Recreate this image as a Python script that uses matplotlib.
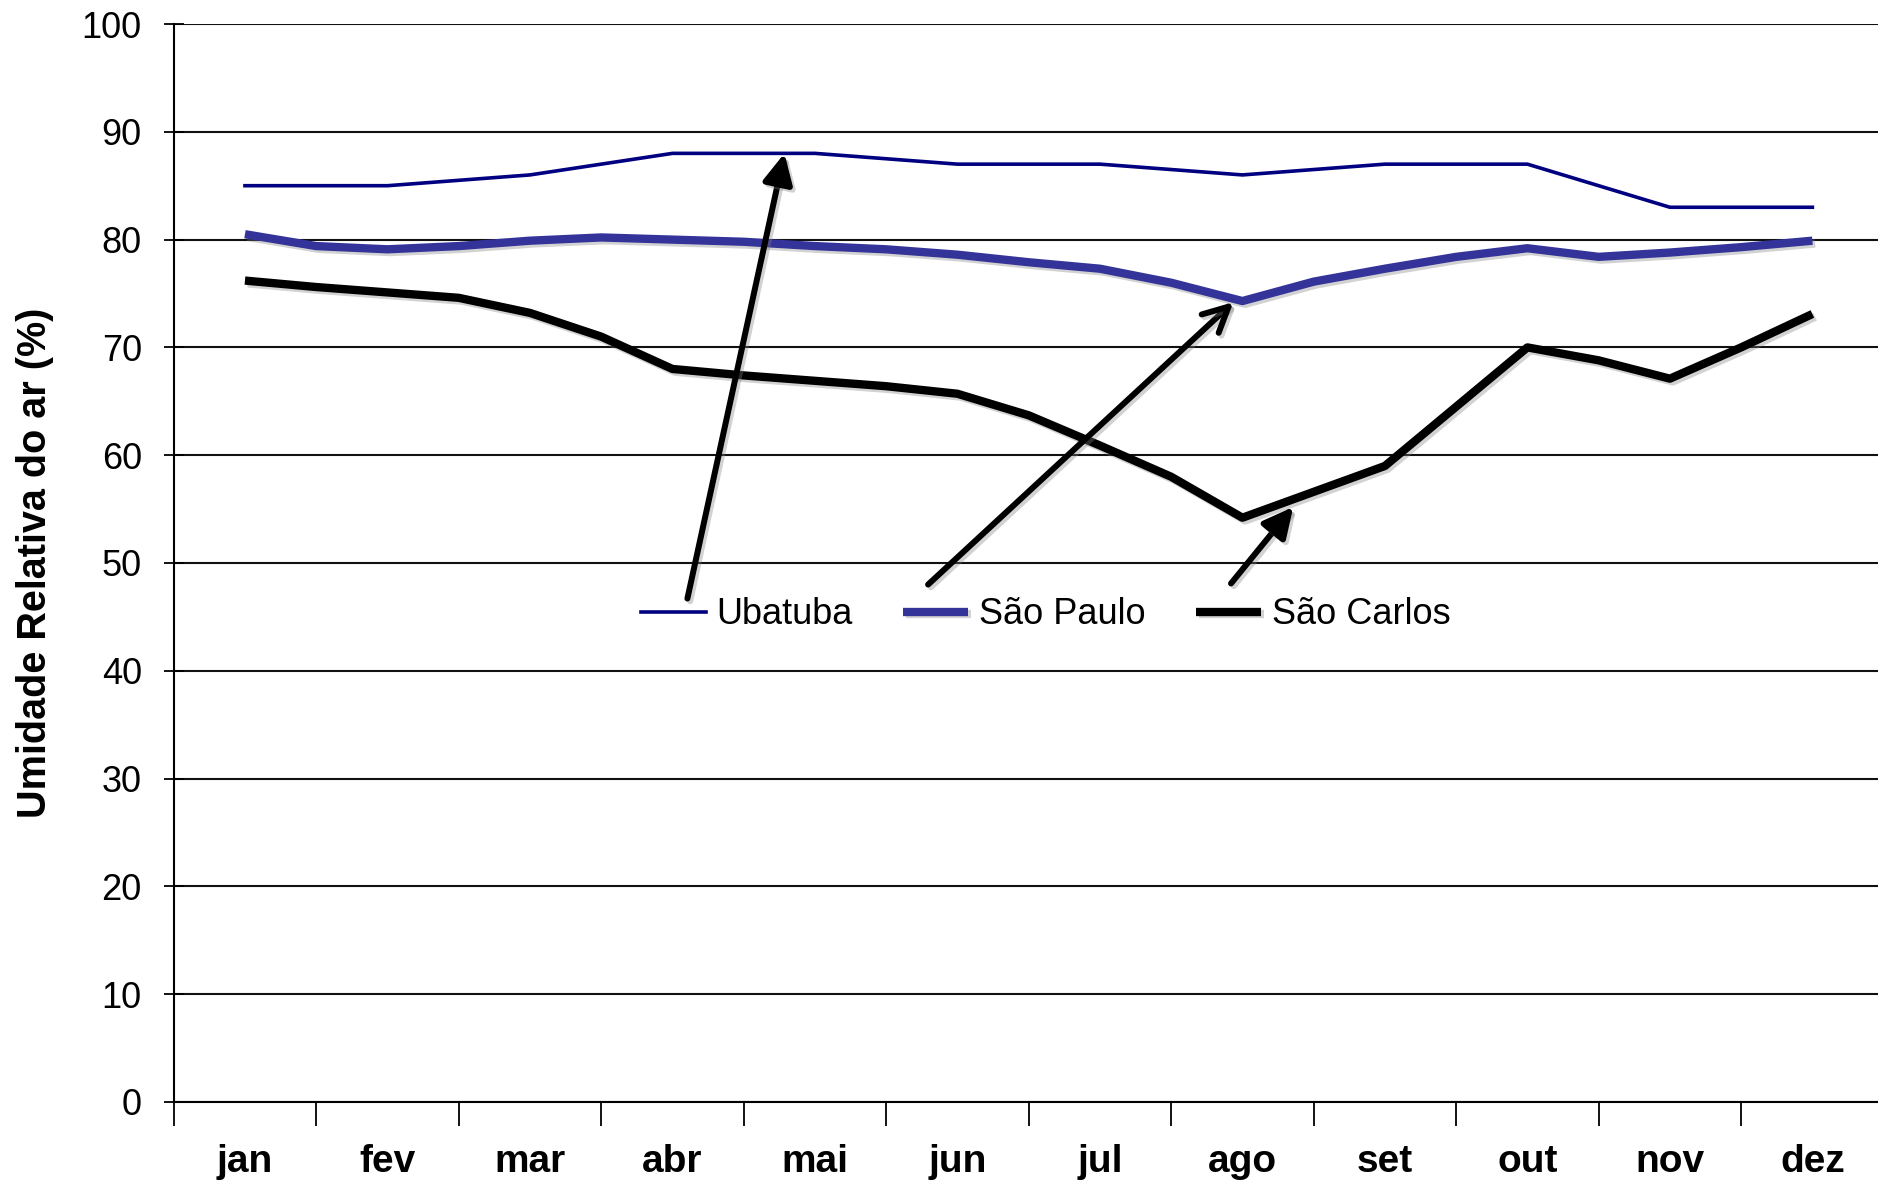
import numpy as np
import matplotlib.pyplot as plt
import matplotlib as mpl
import matplotlib.patheffects as pe

mpl.rcParams['font.family'] = ['Liberation Sans', 'DejaVu Sans']

meses = ['jan', 'fev', 'mar', 'abr', 'mai', 'jun',
         'jul', 'ago', 'set', 'out', 'nov', 'dez']

# Ubatuba, one value per month
ubatuba = [85, 85, 86, 88, 88, 87, 87, 86, 87, 87, 83, 83]

# Sao Paulo and Sao Carlos read every half month (jan, mid jan-fev, fev, ...)
sao_paulo = [80.5, 79.4, 79.1, 79.4, 79.9, 80.2, 80.0, 79.8, 79.4, 79.1,
             78.6, 77.9, 77.3, 76.0, 74.3, 76.1, 77.3, 78.4, 79.2, 78.4,
             78.8, 79.3, 79.9]
sao_carlos = [76.2, 75.6, 75.1, 74.6, 73.2, 71.0, 68.0, 67.4, 66.9, 66.4,
              65.7, 63.7, 60.9, 58.0, 54.2, 56.6, 59.0, 64.5, 70.0, 68.8,
              67.1, 70.0, 73.1]

x_mes = np.arange(len(meses))
x_meio = np.arange(len(sao_paulo)) / 2

shadow = [pe.SimpleLineShadow(offset=(2, -2), shadow_color='gray',
                              alpha=0.35), pe.Normal()]

fig = plt.figure(figsize=[18.78, 11.83], dpi=100)
ax = fig.add_axes([0.0925, 0.0685, 0.9105, 0.9112])

l1, = ax.plot(x_mes, ubatuba, color='#000080', lw=2.6, label='Ubatuba',
              zorder=3)
l2, = ax.plot(x_meio, sao_paulo, color='#333399', lw=6, label='São Paulo',
              solid_capstyle='butt', solid_joinstyle='round',
              path_effects=shadow, zorder=4)
l3, = ax.plot(x_meio, sao_carlos, color='black', lw=6, label='São Carlos',
              solid_capstyle='butt', solid_joinstyle='round',
              path_effects=shadow, zorder=4)

# arrows from the legend to each line
arrows = [((3.105, 46.7), (3.786, 88.0), '-|>'),
          ((4.794, 48.0), (6.937, 74.2), '->'),
          ((6.92, 48.1), (7.357, 55.2), '-|>')]
for tail, head, style in arrows:
    ax.annotate('', xy=head, xytext=tail, zorder=5,
                arrowprops=dict(arrowstyle=style + ',head_length=0.6,head_width=0.3',
                                color='black', lw=4.3, mutation_scale=30,
                                shrinkA=0, shrinkB=0,
                                path_effects=shadow))

ax.set_xlim(-0.5, 11.5)
ax.set_ylim(0, 100)

ax.yaxis.set_major_locator(mpl.ticker.MultipleLocator(10))
ax.grid(axis='y', color='#111111', lw=1.5)
ax.set_axisbelow(True)

ax.set_xticks(np.arange(-0.5, 12, 1))
ax.set_xticklabels([])
ax.set_xticks(x_mes, minor=True)
ax.set_xticklabels(meses, minor=True, fontsize=28, fontweight='bold')
ax.tick_params(axis='x', which='major', direction='out', length=17, width=1.3)
ax.tick_params(axis='x', which='minor', length=0, pad=30)
ax.tick_params(axis='y', direction='inout', length=14, width=1.3,
               labelsize=26, pad=16)

for side in ['top', 'right']:
    ax.spines[side].set_visible(False)
for side in ['left', 'bottom']:
    ax.spines[side].set_linewidth(1.5)

ax.set_ylabel('Umidade Relativa do ar (%)', fontsize=28.5, fontweight='bold')
ax.yaxis.set_label_coords(-0.07, 0.5)

ax.legend(handles=[l1, l2, l3], loc='center', bbox_to_anchor=(0.51, 0.452),
          ncol=3, frameon=False, fontsize=26, handlelength=1.8,
          handletextpad=0.3, columnspacing=1.4)

plt.savefig('out.png', dpi=100)
